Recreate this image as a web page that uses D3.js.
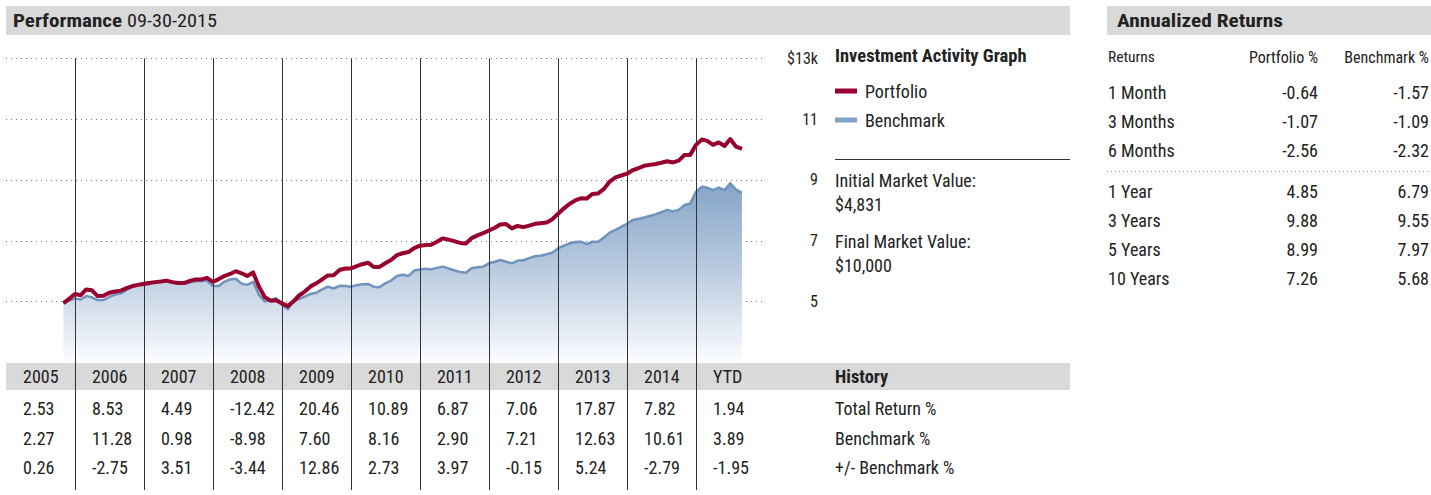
<!DOCTYPE html>
<html>
<head>
<meta charset="utf-8">
<script src="https://cdn.jsdelivr.net/npm/d3@7"></script>
<style>
  html, body { margin: 0; padding: 0; background: #fff; }
  svg { display: block; }
  text { font-family: 'Liberation Sans Narrow', 'Roboto Condensed', 'DejaVu Sans Condensed', 'Arial Narrow', sans-serif; fill: #222; }
</style>
</head>
<body>
<svg id="chart" width="1431" height="495"></svg>
<script>
// ---------- DATA ----------
const seriesStart = [2005, 10]; // first month-end value: Oct 2005 (year, month 1-12)
const portfolio = [
  4.94, 5.08, 5.24, 5.20, 5.39, 5.36, 5.17, 5.18, 5.28, 5.32,
  5.35, 5.43, 5.50, 5.54, 5.57, 5.60, 5.63, 5.65, 5.68, 5.63,
  5.60, 5.60, 5.67, 5.72, 5.72, 5.77, 5.64, 5.73, 5.83, 5.90,
  5.99, 5.92, 5.83, 5.95, 5.48, 5.14, 5.02, 5.03, 4.93, 4.84,
  4.99, 5.19, 5.32, 5.49, 5.59, 5.72, 5.85, 5.86, 6.03, 6.08,
  6.08, 6.16, 6.22, 6.27, 6.13, 6.13, 6.25, 6.36, 6.52, 6.58,
  6.62, 6.75, 6.83, 6.85, 6.86, 6.96, 7.07, 7.03, 6.98, 6.92,
  6.90, 7.08, 7.17, 7.24, 7.33, 7.42, 7.53, 7.54, 7.40, 7.48,
  7.44, 7.49, 7.55, 7.57, 7.59, 7.70, 7.88, 8.06, 8.20, 8.32,
  8.39, 8.38, 8.53, 8.55, 8.70, 8.94, 9.08, 9.14, 9.20, 9.32,
  9.38, 9.46, 9.49, 9.52, 9.56, 9.61, 9.57, 9.63, 9.82, 9.82,
  10.15, 10.33, 10.28, 10.15, 10.23, 10.11, 10.34, 10.09, 10.02
];
const benchmark = [
  4.94, 5.02, 5.09, 5.06, 5.17, 5.13, 5.04, 5.04, 5.14, 5.22,
  5.26, 5.37, 5.48, 5.56, 5.61, 5.63, 5.64, 5.66, 5.66, 5.63,
  5.58, 5.58, 5.62, 5.66, 5.67, 5.68, 5.50, 5.50, 5.64, 5.72,
  5.74, 5.58, 5.54, 5.64, 5.21, 4.99, 5.05, 5.10, 4.88, 4.74,
  4.99, 5.07, 5.15, 5.24, 5.28, 5.39, 5.48, 5.42, 5.51, 5.50,
  5.48, 5.53, 5.56, 5.57, 5.48, 5.46, 5.59, 5.68, 5.83, 5.87,
  5.83, 6.01, 6.05, 6.07, 6.05, 6.10, 6.14, 6.08, 6.02, 5.96,
  5.94, 6.09, 6.12, 6.14, 6.25, 6.30, 6.36, 6.30, 6.25, 6.34,
  6.35, 6.42, 6.48, 6.50, 6.55, 6.60, 6.74, 6.83, 6.90, 6.95,
  6.96, 6.88, 6.96, 6.96, 7.10, 7.26, 7.35, 7.45, 7.55, 7.68,
  7.71, 7.76, 7.81, 7.86, 7.93, 8.01, 7.96, 8.01, 8.17, 8.22,
  8.61, 8.77, 8.74, 8.66, 8.74, 8.66, 8.88, 8.68, 8.57
];
const yTicks = [5, 7, 9, 11, 13];
const yTickLabels = ["5", "7", "9", "11", "$13k"];

const historyYears = ["2005","2006","2007","2008","2009","2010","2011","2012","2013","2014","YTD"];
const totalReturn = [2.53, 8.53, 4.49, -12.42, 20.46, 10.89, 6.87, 7.06, 17.87, 7.82, 1.94];
const benchmarkReturn = [2.27, 11.28, 0.98, -8.98, 7.60, 8.16, 2.90, 7.21, 12.63, 10.61, 3.89];
const vsBenchmark = [0.26, -2.75, 3.51, -3.44, 12.86, 2.73, 3.97, -0.15, 5.24, -2.79, -1.95];
const historyLabels = ["Total Return %", "Benchmark %", "+/- Benchmark %"];

const annPeriods = ["1 Month","3 Months","6 Months","1 Year","3 Years","5 Years","10 Years"];
const annPortfolio = [-0.64, -1.07, -2.56, 4.85, 9.88, 8.99, 7.26];
const annBenchmark = [-1.57, -1.09, -2.32, 6.79, 9.55, 7.97, 5.68];

const initialValue = "$4,831";
const finalValue = "$10,000";

// ---------- SETUP ----------
const svg = d3.select("#chart");
const RED = "#98002e", BLUE_LINE = "#6f93bd", BLUE_LEG = "#7fa3cb", GRAY = "#d9d9d9";

const x = d3.scaleTime()
  .domain([new Date(2005, 0, 1), new Date(2016, 0, 1)])
  .range([6, 765]);
const y = d3.scaleLinear().domain([3, 13]).range([362, 58.3]);

const toPoints = arr => arr.map((v, i) => ({
  date: new Date(seriesStart[0], seriesStart[1] + i, 1), // month-end
  v
}));
const pData = toPoints(portfolio);
const bData = toPoints(benchmark);

// ---------- HEADER BARS ----------
svg.append("rect").attr("x", 6).attr("y", 6).attr("width", 1064).attr("height", 29).attr("fill", GRAY);
svg.append("text").attr("x", 13).attr("y", 26.5).attr("font-size", 18).attr("font-weight", "bold")
  .attr("textLength", 109).attr("lengthAdjust", "spacingAndGlyphs").text("Performance");
svg.append("text").attr("x", 127).attr("y", 26.5).attr("font-size", 18)
  .attr("textLength", 90).attr("lengthAdjust", "spacingAndGlyphs").text("09-30-2015");

svg.append("rect").attr("x", 1107).attr("y", 6).attr("width", 330).attr("height", 29).attr("fill", GRAY);
svg.append("text").attr("x", 1117).attr("y", 26.5).attr("font-size", 18).attr("font-weight", "bold")
  .attr("textLength", 166).attr("lengthAdjust", "spacingAndGlyphs").text("Annualized Returns");

// ---------- GRADIENT ----------
const defs = svg.append("defs");
const grad = defs.append("linearGradient").attr("id", "areaGrad")
  .attr("gradientUnits", "userSpaceOnUse").attr("x1", 0).attr("x2", 0)
  .attr("y1", y(10.5)).attr("y2", y(3));
grad.append("stop").attr("offset", 0).attr("stop-color", "#6990bb");
grad.append("stop").attr("offset", 0.55).attr("stop-color", "#b3c6dd");
grad.append("stop").attr("offset", 1).attr("stop-color", "#fbfcfe");

// ---------- GRIDLINES ----------
svg.append("g").selectAll("line").data(yTicks).join("line")
  .attr("x1", 6).attr("x2", 762)
  .attr("y1", d => Math.round(y(d)) + 0.5).attr("y2", d => Math.round(y(d)) + 0.5)
  .attr("stroke", "#777").attr("stroke-width", 1).attr("stroke-dasharray", "1,4");

svg.append("g").selectAll("text").data(yTicks).join("text")
  .attr("x", 818).attr("y", d => y(d))
  .attr("dy", "0.35em").attr("text-anchor", "end").attr("font-size", 16)
  .text((d, i) => yTickLabels[i]);

// ---------- AREA + LINES ----------
svg.append("path").datum(bData)
  .attr("fill", "url(#areaGrad)")
  .attr("d", d3.area().x(d => x(d.date)).y0(y(3)).y1(d => y(d.v)));

svg.append("path").datum(bData)
  .attr("fill", "none").attr("stroke", BLUE_LINE).attr("stroke-width", 2.5)
  .attr("stroke-linejoin", "round")
  .attr("d", d3.line().x(d => x(d.date)).y(d => y(d.v)));

// ---------- HISTORY BAR ----------
svg.append("rect").attr("x", 6).attr("y", 363).attr("width", 1064).attr("height", 27).attr("fill", GRAY);

// vertical year lines
const yearStarts = d3.range(2006, 2016).map(yr => new Date(yr, 0, 1));
svg.append("g").selectAll("line").data(yearStarts).join("line")
  .attr("x1", d => Math.round(x(d)) + 0.5).attr("x2", d => Math.round(x(d)) + 0.5)
  .attr("y1", y(13)).attr("y2", 490)
  .attr("stroke", "#333").attr("stroke-width", 1);

svg.append("path").datum(pData)
  .attr("fill", "none").attr("stroke", RED).attr("stroke-width", 4)
  .attr("stroke-linejoin", "round")
  .attr("d", d3.line().x(d => x(d.date)).y(d => y(d.v)));

// history table
const colX = historyYears.map((_, i) => x(new Date(2005 + i, 0, 1)) + 17);
svg.append("g").selectAll("text").data(historyYears).join("text")
  .attr("x", (d, i) => colX[i]).attr("y", 377).attr("dy", "0.35em").attr("font-size", 18)
  .text(d => d);
svg.append("text").attr("x", 835).attr("y", 377).attr("dy", "0.35em").attr("font-size", 18.4)
  .attr("font-weight", "bold").text("History");

const rows = [totalReturn, benchmarkReturn, vsBenchmark];
const rowY = [409, 439, 468];
rows.forEach((arr, r) => {
  svg.append("g").selectAll("text").data(arr).join("text")
    .attr("x", (d, i) => colX[i]).attr("y", rowY[r]).attr("dy", "0.35em").attr("font-size", 18)
    .text(d => d.toFixed(2));
  svg.append("text").attr("x", 835).attr("y", rowY[r]).attr("dy", "0.35em").attr("font-size", 18)
    .text(historyLabels[r]);
});

// ---------- LEGEND / SIDE PANEL ----------
svg.append("text").attr("x", 835).attr("y", 56).attr("dy", "0.35em").attr("font-size", 18.5)
  .attr("font-weight", "bold").text("Investment Activity Graph");
const legend = [{ name: "Portfolio", color: RED, yy: 91 }, { name: "Benchmark", color: BLUE_LEG, yy: 120 }];
legend.forEach(l => {
  svg.append("rect").attr("x", 835).attr("y", l.yy - 2.5).attr("width", 22).attr("height", 5).attr("fill", l.color);
  svg.append("text").attr("x", 865).attr("y", l.yy + 1).attr("dy", "0.35em").attr("font-size", 18).text(l.name);
});
svg.append("line").attr("x1", 835).attr("x2", 1070).attr("y1", 159.5).attr("y2", 159.5)
  .attr("stroke", "#333").attr("stroke-width", 1);
svg.append("text").attr("x", 835).attr("y", 181).attr("dy", "0.35em").attr("font-size", 18).text("Initial Market Value:");
svg.append("text").attr("x", 835).attr("y", 205).attr("dy", "0.35em").attr("font-size", 18).text(initialValue);
svg.append("text").attr("x", 835).attr("y", 242).attr("dy", "0.35em").attr("font-size", 18).text("Final Market Value:");
svg.append("text").attr("x", 835).attr("y", 266).attr("dy", "0.35em").attr("font-size", 18).text(finalValue);

// ---------- ANNUALIZED RETURNS ----------
svg.append("text").attr("x", 1108).attr("y", 57).attr("dy", "0.35em").attr("font-size", 15.5).text("Returns");
svg.append("text").attr("x", 1318).attr("y", 57).attr("dy", "0.35em").attr("font-size", 16)
  .attr("text-anchor", "end").text("Portfolio %");
svg.append("text").attr("x", 1429).attr("y", 57).attr("dy", "0.35em").attr("font-size", 16)
  .attr("text-anchor", "end").text("Benchmark %");

const annY = [93, 122, 151, 192, 221, 250, 279];
svg.append("g").selectAll("text").data(annPeriods).join("text")
  .attr("x", 1108).attr("y", (d, i) => annY[i]).attr("dy", "0.35em").attr("font-size", 18).text(d => d);
svg.append("g").selectAll("text").data(annPortfolio).join("text")
  .attr("x", 1318).attr("y", (d, i) => annY[i]).attr("dy", "0.35em").attr("font-size", 18)
  .attr("text-anchor", "end").text(d => d.toFixed(2));
svg.append("g").selectAll("text").data(annBenchmark).join("text")
  .attr("x", 1429).attr("y", (d, i) => annY[i]).attr("dy", "0.35em").attr("font-size", 18)
  .attr("text-anchor", "end").text(d => d.toFixed(2));
svg.append("line").attr("x1", 1107).attr("x2", 1431).attr("y1", 171.5).attr("y2", 171.5)
  .attr("stroke", "#888").attr("stroke-dasharray", "1,3");
</script>
</body>
</html>
